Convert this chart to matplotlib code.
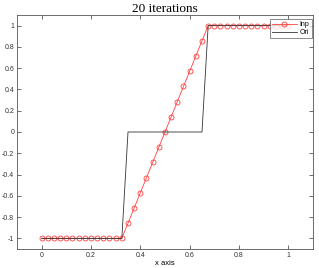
import numpy as np
import matplotlib
matplotlib.use("Agg")
import matplotlib.pyplot as plt

# sample grid, step 0.025
x = [i * 0.025 for i in range(41)]

# reconstructed signal (red, circles)
inp = ([-1.0] * 14 +
       [-0.857, -0.714, -0.571, -0.429, -0.286, -0.143, 0.0,
        0.143, 0.286, 0.429, 0.571, 0.714, 0.857, 1.0] +
       [1.0] * 13)

# original signal (black)
ori = [-1.0] * 14 + [0.0] * 13 + [1.0] * 14

plt.rcParams['font.family'] = ['Liberation Sans', 'DejaVu Sans']

fig = plt.figure(figsize=(3.19, 2.68), dpi=100)
ax = fig.add_axes([17 / 319, 1 - 249 / 268, 296 / 319, 234 / 268])

ax.plot(x, inp, color='#ff4040', lw=0.6, marker='o', ms=3.6,
        mfc='none', mec='#ff4040', mew=0.6, label='Inp')
ax.plot(x, ori, color='#333333', lw=0.6, label='Ori')

ax.set_xlim(-0.1, 1.1)
ax.set_ylim(-1.1, 1.1)
ax.set_xticks([0, 0.2, 0.4, 0.6, 0.8, 1])
ax.set_xticklabels(['0', '0.2', '0.4', '0.6', '0.8', '1'])
ax.set_yticks([-1, -0.8, -0.6, -0.4, -0.2, 0, 0.2, 0.4, 0.6, 0.8, 1])
ax.set_yticklabels(['-1', '-0.8', '-0.6', '-0.4', '-0.2', '0',
                    '0.2', '0.4', '0.6', '0.8', '1'])
ax.tick_params(direction='in', length=3, width=0.5, labelsize=5,
               top=True, right=True, pad=2, colors='#333333')
for s in ax.spines.values():
    s.set_linewidth(0.6)
    s.set_color('#555555')

ax.set_xlabel('x axis', fontsize=5.5, labelpad=1)
ax.set_title('20 iterations', fontsize=9.5, family='Liberation Serif', pad=2)

leg = ax.legend(loc='upper right', fontsize=5, frameon=True, fancybox=False,
                bbox_to_anchor=(0.995, 0.982), borderaxespad=0,
                handlelength=3.6, borderpad=0.3,
                labelspacing=0.15, handletextpad=0.4)
leg.get_frame().set_edgecolor('#555555')
leg.get_frame().set_linewidth(0.6)

fig.savefig('out.png', dpi=100)
